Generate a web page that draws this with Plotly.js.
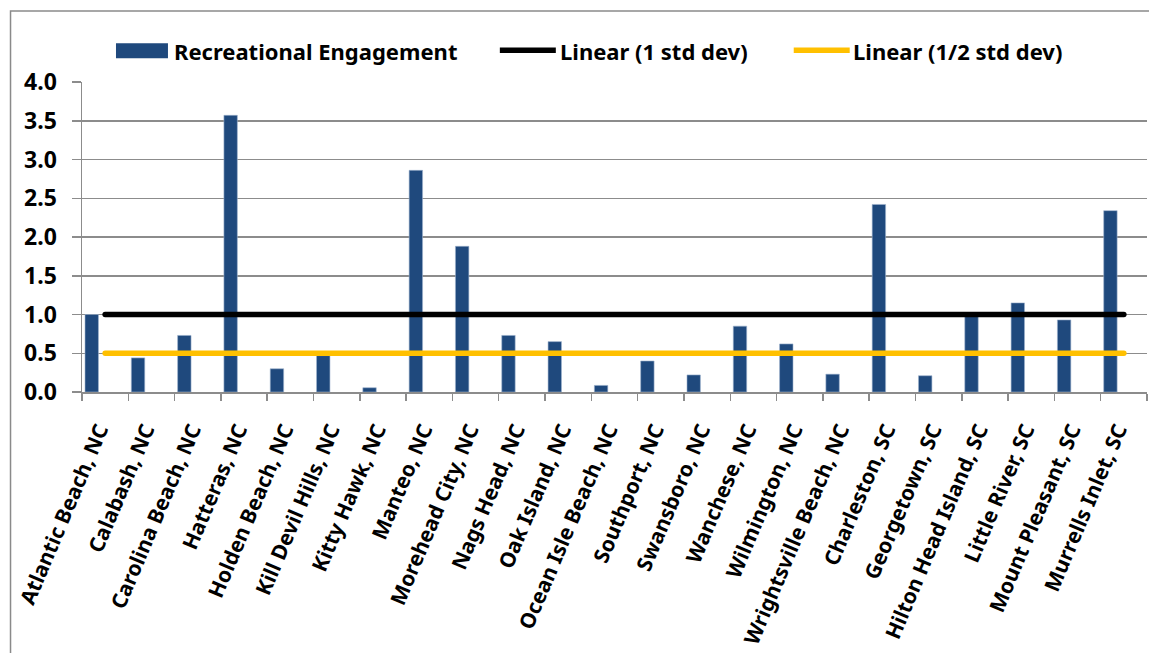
<!DOCTYPE html>
<html>
<head>
<meta charset="utf-8">
<script src="https://cdn.plot.ly/plotly-3.0.1.min.js"></script>
<style>
html,body{margin:0;padding:0;background:#fff;}
#chart{width:1149px;height:653px;}
.scatterlayer path.js-line{stroke-linecap:round;}
</style>
</head>
<body>
<div id="chart"></div>
<script>
const categories = [
  "Atlantic Beach, NC","Calabash, NC","Carolina Beach, NC","Hatteras, NC","Holden Beach, NC",
  "Kill Devil Hills, NC","Kitty Hawk, NC","Manteo, NC","Morehead City, NC","Nags Head, NC",
  "Oak Island, NC","Ocean Isle Beach, NC","Southport, NC","Swansboro, NC","Wanchese, NC",
  "Wilmington, NC","Wrightsville Beach, NC","Charleston, SC","Georgetown, SC","Hilton Head Island, SC",
  "Little River, SC","Mount Pleasant, SC","Murrells Inlet, SC"
];
const recreationalEngagement = [
  1.00, 0.44, 0.73, 3.57, 0.30,
  0.47, 0.055, 2.86, 1.88, 0.73,
  0.65, 0.085, 0.40, 0.22, 0.85,
  0.62, 0.23, 2.42, 0.21, 0.98,
  1.15, 0.93, 2.34
];
const oneStdDev = [
  1.0,1.0,1.0,1.0,1.0,1.0,1.0,1.0,1.0,1.0,1.0,1.0,
  1.0,1.0,1.0,1.0,1.0,1.0,1.0,1.0,1.0,1.0,1.0
];
const halfStdDev = [
  0.5,0.5,0.5,0.5,0.5,0.5,0.5,0.5,0.5,0.5,0.5,0.5,
  0.5,0.5,0.5,0.5,0.5,0.5,0.5,0.5,0.5,0.5,0.5
];
const yTicks = [0,0.5,1.0,1.5,2.0,2.5,3.0,3.5,4.0];
const legendNames = ["Recreational Engagement","Linear (1 std dev)","Linear (1/2 std dev)"];

const FONT = "Noto Sans, Open Sans, DejaVu Sans, sans-serif";
const BLUE = "#1F497D", YELLOW = "#FFC000", GRID = "#8c8c8c";

const traces = [
  {type:"bar", x:categories, y:recreationalEngagement, name:legendNames[0],
   marker:{color:BLUE, line:{color:"#9fb3cf", width:0.6}},
   offset:-0.435, width:0.29, showlegend:false, hoverinfo:"x+y"},
  {type:"scatter", mode:"lines", x:categories, y:oneStdDev, name:legendNames[1],
   line:{color:"#000000", width:5.5}, showlegend:false},
  {type:"scatter", mode:"lines", x:categories, y:halfStdDev, name:legendNames[2],
   line:{color:YELLOW, width:5.5}, showlegend:false}
];

// pixel -> paper helpers for the custom legend
const L=82, R=1147.4, T=81.7, B=392.3;
const px = v => (v-L)/(R-L);
const py = v => (B-v)/(B-T);

const layout = {
  width:1149, height:653,
  margin:{l:L, r:1149-R, t:T, b:653-B, pad:0},
  paper_bgcolor:"#ffffff", plot_bgcolor:"#ffffff",
  font:{family:FONT, size:22, color:"#000"},
  showlegend:false,
  bargap:0,
  xaxis:{type:"category", range:[-0.5,22.5], tickangle:-67,
    showgrid:false, showline:true, linecolor:GRID, linewidth:1.5,
    ticks:"outside", tickson:"boundaries", ticklen:7, tickcolor:GRID, tickwidth:1.5,
    ticklabelstandoff:16, ticklabelshift:-6,
    tickfont:{family:FONT, size:21, color:"#000", weight:"bold"}, automargin:false},
  yaxis:{range:[0,4], tickvals:yTicks, tickformat:".1f",
    showgrid:true, gridcolor:GRID, gridwidth:1.5,
    showline:true, linecolor:GRID, linewidth:1.5,
    ticks:"outside", ticklen:9, tickcolor:GRID, tickwidth:1.5,
    ticklabelstandoff:10,
    zeroline:false,
    tickfont:{family:FONT, size:23, color:"#000", weight:"bold"}, automargin:false},
  shapes:[
    {type:"rect", xref:"paper", yref:"paper", x0:px(10.5), x1:px(1200), y0:py(700), y1:py(10.5),
     line:{color:"#8a8a8a", width:1.5}, fillcolor:"rgba(0,0,0,0)", layer:"below"},
    {type:"rect", xref:"paper", yref:"paper", x0:px(116), x1:px(168), y0:py(58), y1:py(43),
     fillcolor:BLUE, line:{width:0}},
    {type:"line", xref:"paper", yref:"paper", x0:px(500), x1:px(556), y0:py(50), y1:py(50),
     line:{color:"#000", width:5.5}},
    {type:"line", xref:"paper", yref:"paper", x0:px(794), x1:px(850), y0:py(50), y1:py(50),
     line:{color:YELLOW, width:5.5}}
  ],
  annotations:[
    {xref:"paper", yref:"paper", x:px(172), y:py(51), xanchor:"left", yanchor:"middle",
     text:"<b>"+legendNames[0]+"</b>", showarrow:false, font:{family:FONT, size:22, color:"#000"}},
    {xref:"paper", yref:"paper", x:px(558), y:py(51), xanchor:"left", yanchor:"middle",
     text:"<b>"+legendNames[1]+"</b>", showarrow:false, font:{family:FONT, size:22, color:"#000"}},
    {xref:"paper", yref:"paper", x:px(851), y:py(51), xanchor:"left", yanchor:"middle",
     text:"<b>"+legendNames[2]+"</b>", showarrow:false, font:{family:FONT, size:22, color:"#000"}}
  ]
};

Plotly.newPlot("chart", traces, layout, {displayModeBar:false, staticPlot:true});
</script>
</body>
</html>
